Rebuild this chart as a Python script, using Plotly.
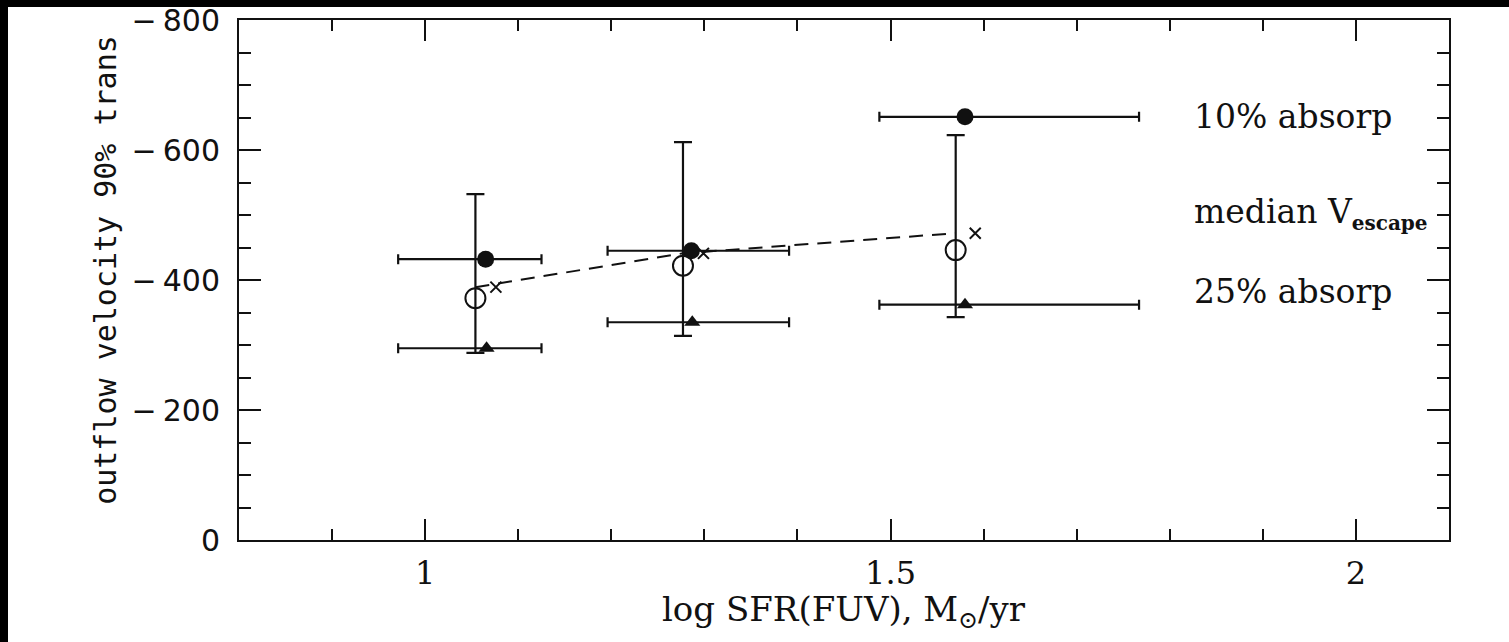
import plotly.graph_objects as go
import numpy as np

# ---- data ----
# 10% absorption (filled circles) with SFR ranges
sfr_10 = [1.065, 1.286, 1.580]
v_10 = [-432, -445, -651]
sfr_10_lo = [0.971, 1.196, 1.488]
sfr_10_hi = [1.125, 1.391, 1.767]

# 25% absorption (triangles) with SFR ranges
sfr_25 = [1.066, 1.287, 1.580]
v_25 = [-295, -335, -362]
sfr_25_lo = [0.971, 1.196, 1.488]
sfr_25_hi = [1.125, 1.391, 1.767]

# median (open circles) with velocity ranges
sfr_med = [1.054, 1.277, 1.570]
v_med = [-372, -422, -446]
v_med_top = [-532, -612, -623]
v_med_bot = [-288, -314, -343]

# median V_escape (crosses) and dashed trend
sfr_esc = [1.076, 1.299, 1.591]
v_esc = [-389, -441, -472]
sfr_esc_line = [1.054, 1.277, 1.570]
v_esc_line = [-389, -441, -472]

x_ticks = [1, 1.5, 2]
x_ticktext = ["1", "1.5", "2"]
y_ticks = [0, -200, -400, -600, -800]
y_ticktext = ["0", "\u2212\u2009200", "\u2212\u2009400", "\u2212\u2009600", "\u2212\u2009800"]

INK = "#111111"

def err(center, lo, hi):
    c = np.array(center, float)
    return (np.array(hi, float) - c).tolist(), (c - np.array(lo, float)).tolist()

fig = go.Figure()

# dashed escape-velocity trend
fig.add_trace(go.Scatter(x=sfr_esc_line, y=v_esc_line, mode="lines",
                         line=dict(color=INK, width=2, dash="14px,9px"),
                         showlegend=False, hoverinfo="skip"))

p, m = err(sfr_10, sfr_10_lo, sfr_10_hi)
fig.add_trace(go.Scatter(x=sfr_10, y=v_10, mode="markers",
                         marker=dict(symbol="circle", size=17, color=INK),
                         error_x=dict(type="data", symmetric=False, array=p, arrayminus=m,
                                      color=INK, thickness=2.2, width=5),
                         showlegend=False))

p, m = err(sfr_25, sfr_25_lo, sfr_25_hi)
fig.add_trace(go.Scatter(x=sfr_25, y=v_25, mode="markers",
                         marker=dict(symbol="triangle-up", size=14, color=INK),
                         error_x=dict(type="data", symmetric=False, array=p, arrayminus=m,
                                      color=INK, thickness=2.2, width=5),
                         showlegend=False))

fig.add_trace(go.Scatter(x=sfr_med, y=v_med, mode="markers",
                         marker=dict(symbol="circle-open", size=20, color=INK,
                                     line=dict(width=2, color=INK)),
                         error_y=dict(type="data", symmetric=False,
                                      array=(np.array(v_med_bot) - np.array(v_med)).tolist(),
                                      arrayminus=(np.array(v_med) - np.array(v_med_top)).tolist(),
                                      color=INK, thickness=2.2, width=9),
                         showlegend=False))

fig.add_trace(go.Scatter(x=sfr_esc, y=v_esc, mode="markers",
                         marker=dict(symbol="x-thin-open", size=11, color=INK,
                                     line=dict(width=2, color=INK)),
                         showlegend=False))

serif = "DejaVu Serif"

fig.update_layout(
    width=1509, height=642,
    margin=dict(l=239, r=60, t=20, b=102, autoexpand=False),
    paper_bgcolor="white", plot_bgcolor="white",
    showlegend=False,
    xaxis=dict(range=[0.8, 2.1], tickvals=x_ticks, ticktext=x_ticktext,
               showgrid=False, zeroline=False, showline=True, linecolor=INK, linewidth=2,
               mirror="ticks", ticks="inside", ticklen=21, tickwidth=2, tickcolor=INK,
               minor=dict(ticks="inside", ticklen=11, tickwidth=2, tickcolor=INK,
                          dtick=0.1, tick0=0, showgrid=False),
               tickfont=dict(family=serif, size=32, color=INK), ticklabelstandoff=4),
    yaxis=dict(range=[0, -800], tickvals=y_ticks, ticktext=y_ticktext,
               showgrid=False, zeroline=False, showline=True, linecolor=INK, linewidth=2,
               mirror="ticks", ticks="inside", ticklen=22, tickwidth=2, tickcolor=INK,
               minor=dict(ticks="inside", ticklen=12, tickwidth=2, tickcolor=INK,
                          dtick=50, tick0=0, showgrid=False),
               tickfont=dict(family="DejaVu Sans", size=30, color=INK), ticklabelstandoff=11),
)

annotations = [
    dict(x=1.8235, y=-651, xref="x", yref="y", text="10% absorp", showarrow=False,
         xanchor="left", yanchor="middle", font=dict(family=serif, size=33, color=INK)),
    dict(x=1.8235, y=-502, xref="x", yref="y",
         text="median V<sub><b><span style='font-size:20px'>escape</span></b></sub>",
         showarrow=False, xanchor="left", yanchor="middle",
         font=dict(family=serif, size=33, color=INK)),
    dict(x=1.8235, y=-383, xref="x", yref="y", text="25% absorp", showarrow=False,
         xanchor="left", yanchor="middle", font=dict(family=serif, size=33, color=INK)),
    dict(x=0.5, y=-0.138, xref="paper", yref="paper",
         text="log SFR(FUV), M<sub>\u2299</sub>/yr", showarrow=False,
         xanchor="center", yanchor="middle", font=dict(family=serif, size=34, color=INK)),
    dict(x=-0.111, y=0.519, xref="paper", yref="paper", textangle=-90,
         text="outflow velocity 90% trans", showarrow=False,
         xanchor="center", yanchor="middle",
         font=dict(family="DejaVu Sans Mono", size=30, color=INK)),
]
fig.update_layout(annotations=annotations)

# black scan border at top and left of the picture
fig.add_shape(type="rect", xref="paper", yref="paper", x0=-0.25, x1=1.06,
              y0=(540 - 7) / 520, y1=1.1, fillcolor="black", line_width=0, layer="above")
fig.add_shape(type="rect", xref="paper", yref="paper", x0=-0.25, x1=(8 - 239) / 1210,
              y0=-0.25, y1=1.1, fillcolor="black", line_width=0, layer="above")

fig.write_html("out.html")
